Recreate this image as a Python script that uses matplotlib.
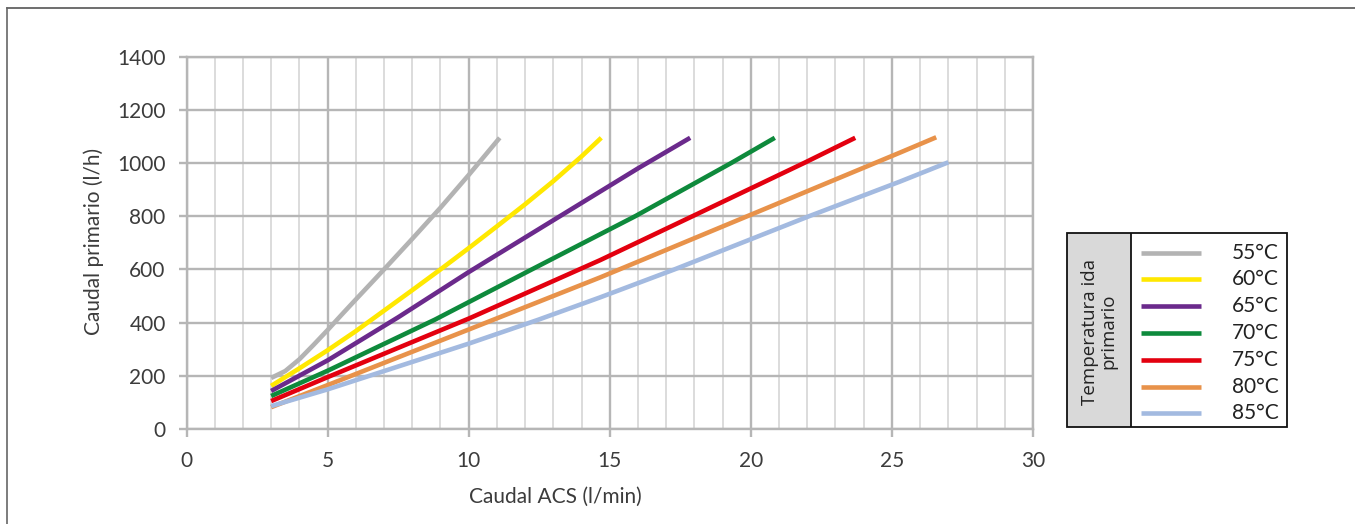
import matplotlib
matplotlib.use('Agg')
import matplotlib.pyplot as plt
from matplotlib.lines import Line2D
from matplotlib.patches import Rectangle

# ---- data ----
x_55 = [3.0, 3.5, 4.0, 4.5, 5.0, 5.5, 6.0, 7.0, 8.0, 9.0, 10.0, 11.1]
y_55 = [192, 218, 262, 316, 372, 430, 487, 600, 715, 832, 955, 1095]

x_60 = [3.0, 4.0, 5.0, 6.0, 7.0, 8.0, 9.0, 10.0, 11.0, 12.0, 13.0, 14.0, 14.7]
y_60 = [162, 228, 296, 368, 445, 522, 600, 680, 762, 845, 932, 1025, 1095]

x_65 = [3.0, 5.0, 7.5, 10.0, 13.0, 16.0, 17.85]
y_65 = [143, 258, 420, 590, 785, 980, 1095]

x_70 = [3.0, 5.0, 8.8, 12.2, 15.9, 19.3, 20.85]
y_70 = [124, 219, 411, 598, 800, 1000, 1095]

x_75 = [3.0, 5.0, 10.0, 14.66, 17.93, 21.88, 23.7]
y_75 = [105, 195, 415, 635, 800, 1000, 1095]

x_80 = [3.0, 5.0, 10.0, 14.66, 19.87, 25.3, 26.57]
y_80 = [82, 165, 374, 570, 800, 1040, 1097]

x_85 = [3.0, 5.0, 10.0, 12.47, 14.66, 17.29, 22.06, 25.3, 27.0]
y_85 = [86, 149, 321, 411, 495, 600, 800, 931, 1003]

series_labels = ['55°C', '60°C', '65°C', '70°C', '75°C', '80°C', '85°C']
series_colors = ['#b3b3b3', '#ffe800', '#6b2a8c', '#0e8a3c', '#e3000f', '#e8924a', '#a3bae0']
x_ticks = [0, 5, 10, 15, 20, 25, 30]
y_ticks = [0, 200, 400, 600, 800, 1000, 1200, 1400]
x_minor = list(range(0, 31))
x_label = 'Caudal ACS (l/min)'
y_label = 'Caudal primario (l/h)'
legend_title = 'Temperatura ida\nprimario'

xs = [x_55, x_60, x_65, x_70, x_75, x_80, x_85]
ys = [y_55, y_60, y_65, y_70, y_75, y_80, y_85]

# ---- figure ----
W, H = 1355, 524
fig = plt.figure(figsize=(W / 100, H / 100), dpi=100)
fig.patch.set_facecolor('white')

font = 'Lato'
txt_color = '#3c3c3c'
grid_major = '#b6b6b6'
grid_minor = '#d2d2d2'

L, R, T, B = 186.5, 1033, 56.7, 429
ax = fig.add_axes([L / W, 1 - B / H, (R - L) / W, (B - T) / H])
ax.set_xlim(0, 30)
ax.set_ylim(0, 1400)
ax.set_xticks(x_ticks)
ax.set_yticks(y_ticks)
ax.set_xticks(x_minor, minor=True)
ax.grid(which='major', color=grid_major, lw=1.7, zorder=0)
ax.grid(which='minor', axis='x', color=grid_minor, lw=1.1, zorder=0)
ax.set_axisbelow(True)
for s in ax.spines.values():
    s.set_color(grid_major)
    s.set_linewidth(1.7)
ax.tick_params(which='major', length=6, width=1.7, color=grid_major,
               labelsize=15, labelcolor=txt_color)
ax.tick_params(axis='y', pad=9)
ax.tick_params(axis='x', pad=10)
ax.tick_params(which='minor', length=0)
for lab in ax.get_xticklabels() + ax.get_yticklabels():
    lab.set_fontfamily(font)

for xv, yv, c in zip(xs, ys, series_colors):
    ax.plot(xv, yv, color=c, lw=3.3, solid_capstyle='butt',
            solid_joinstyle='round', zorder=3)

fig.text(93.5 / W, 1 - 241 / H, y_label, rotation=90, ha='center', va='center',
         fontsize=15, color=txt_color, fontfamily=font)
fig.text(555 / W, 1 - 497 / H, x_label, ha='center', va='center',
         fontsize=15, color=txt_color, fontfamily=font)

# ---- legend table ----
lx0, lx1, ly0, ly1 = 1067.3, 1286.7, 232.7, 426.7
lax = fig.add_axes([lx0 / W, 1 - ly1 / H, (lx1 - lx0) / W, (ly1 - ly0) / H])
lax.set_xlim(lx0, lx1)
lax.set_ylim(ly1, ly0)
lax.axis('off')
div = 1130.7
lax.add_patch(Rectangle((lx0, ly0), div - lx0, ly1 - ly0, facecolor='#d9d9d9',
                        edgecolor='none', zorder=1))
lax.add_patch(Rectangle((lx0, ly0), lx1 - lx0, ly1 - ly0, facecolor='none',
                        edgecolor='#111111', lw=1.3, zorder=3, clip_on=False))
lax.plot([div, div], [ly0, ly1], color='#111111', lw=1.3, zorder=3)
lax.text((lx0 + div) / 2, (ly0 + ly1) / 2 + 2, legend_title, rotation=90,
         ha='center', va='center', fontsize=13.5, color='#222222',
         fontfamily='Open Sans', linespacing=1.05)
row_y0, row_dy = 252.7, 26.77
for i, (lab, c) in enumerate(zip(series_labels, series_colors)):
    yy = row_y0 + i * row_dy
    lax.plot([1141, 1201], [yy, yy], color=c, lw=3.3, solid_capstyle='butt', zorder=2)
    lax.text(1279, yy, lab, ha='right', va='center', fontsize=15,
             color='#222222', fontfamily=font)

# ---- outer frame (top and left edges) ----
fig.add_artist(Line2D([7.3 / W, 1.0], [1 - 8.3 / H, 1 - 8.3 / H],
                      color='#555555', lw=1.2, transform=fig.transFigure))
fig.add_artist(Line2D([7.3 / W, 7.3 / W], [1 - 8.3 / H, 0.0],
                      color='#666666', lw=1.2, transform=fig.transFigure))

fig.savefig('out.png', dpi=100)
